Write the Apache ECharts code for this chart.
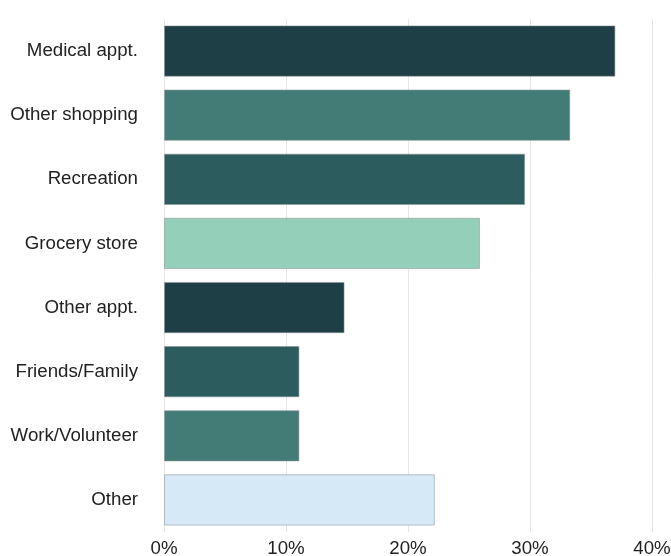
<!DOCTYPE html>
<html>
<head>
<meta charset="utf-8">
<script src="https://cdn.jsdelivr.net/npm/echarts@6/dist/echarts.min.js"></script>
<style>html,body{margin:0;padding:0;background:#fff;}#c{width:671px;height:556px;}</style>
</head>
<body>
<div id="c"></div>
<script>
const categories = ["Medical appt.", "Other shopping", "Recreation", "Grocery store", "Other appt.", "Friends/Family", "Work/Volunteer", "Other"];
const values = [37.0, 33.3, 29.6, 25.9, 14.8, 11.1, 11.1, 22.2];
const barColors = ["#1f3f46", "#437c77", "#2d5c5e", "#94cfba", "#1f3f46", "#2d5c5e", "#437c77", "#d5e9f7"];
const xTicks = [0, 10, 20, 30, 40];

const chart = echarts.init(document.getElementById('c'));
chart.setOption({
  animation: false,
  grid: { left: 164, right: 19, top: 19, bottom: 24, containLabel: false, outerBoundsMode: 'none' },
  xAxis: {
    type: 'value', min: xTicks[0], max: xTicks[xTicks.length - 1], interval: 10,
    axisLine: { show: false }, axisTick: { show: false },
    splitLine: { show: true, lineStyle: { color: '#e6e6e6', width: 1 } },
    axisLabel: { formatter: v => v + '%', color: '#222', fontSize: 18.7, fontFamily: 'Liberation Sans, Arial, sans-serif', margin: 7 }
  },
  yAxis: {
    type: 'category', data: categories, inverse: true,
    axisLine: { show: false }, axisTick: { show: false },
    axisLabel: { color: '#222', fontSize: 18.7, fontFamily: 'Liberation Sans, Arial, sans-serif', margin: 26 }
  },
  series: [{
    type: 'bar',
    barCategoryGap: '20%',
    data: values.map((v, i) => ({ value: v, itemStyle: { color: barColors[i] } })),
    itemStyle: { borderColor: 'rgba(140,150,150,0.55)', borderWidth: 1 }
  }]
});
</script>
</body>
</html>
